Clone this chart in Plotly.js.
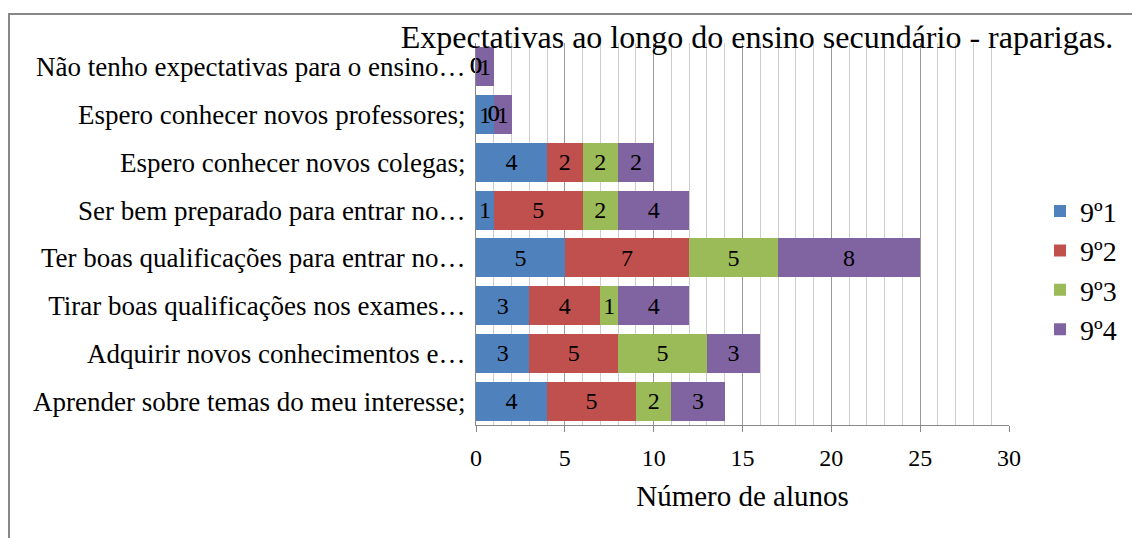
<!DOCTYPE html>
<html>
<head>
<meta charset="utf-8">
<script src="https://cdn.plot.ly/plotly-3.0.1.min.js"></script>
<style>
  html, body { margin: 0; padding: 0; background: #fff; }
  #wrap { position: relative; width: 1132px; height: 538px; overflow: hidden; }
  #chart { position: absolute; left: 0; top: 0; width: 1132px; height: 538px; }
  #frame { position: absolute; left: 8px; top: 13px; width: 1200px; height: 600px;
           border-left: 2px solid #888; border-top: 2px solid #888; pointer-events: none; }
</style>
</head>
<body>
<div id="wrap">
  <div id="chart"></div>
  <div id="frame"></div>
</div>
<script>
// Categories (bottom to top)
const categories = [
  "Aprender sobre temas do meu interesse;",
  "Adquirir novos conhecimentos e…",
  "Tirar boas qualificações nos exames…",
  "Ter boas qualificações para entrar no…",
  "Ser bem preparado para entrar no…",
  "Espero conhecer novos colegas;",
  "Espero conhecer novos professores;",
  "Não tenho expectativas para o ensino…"
];
const seriesNames = ["9º1", "9º2", "9º3", "9º4"];
const s91 = [4, 3, 3, 5, 1, 4, 1, 0];
const s92 = [5, 5, 4, 7, 5, 2, 0, 0];
const s93 = [2, 5, 1, 5, 2, 2, 0, 0];
const s94 = [3, 3, 4, 8, 4, 2, 1, 1];
const colors = ["#4F81BD", "#C0504D", "#9BBB59", "#8064A2"];
const xTicks = [0, 5, 10, 15, 20, 25, 30];

const FONT = "Liberation Serif, Times New Roman, serif";
const allSeries = [s91, s92, s93, s94];
const LABEL_SIZE = 24;

const traces = allSeries.map((vals, i) => ({
  type: "bar",
  orientation: "h",
  name: seriesNames[i],
  y: categories,
  x: vals,
  marker: { color: colors[i], line: { width: 0 } },
  text: vals.map(v => String(v)),
  textposition: "inside",
  insidetextanchor: "middle",
  constraintext: "none",
  textangle: 0,
  textfont: { family: FONT, size: LABEL_SIZE, color: "#000" },
  legendgroup: "g" + i,
  hoverinfo: "x+name"
}));

// Data labels for zero-valued segments (drawn at the stack position)
const zx = [], zy = [], zt = [];
categories.forEach((c, k) => {
  let cum = 0;
  allSeries.forEach(vals => {
    if (vals[k] === 0) { zx.push(cum); zy.push(c); zt.push("0"); }
    cum += vals[k];
  });
});
traces.push({
  type: "scatter",
  mode: "text",
  x: zx, y: zy, text: zt,
  textposition: "middle center",
  textfont: { family: FONT, size: LABEL_SIZE, color: "#000" },
  showlegend: false,
  hoverinfo: "skip",
  cliponaxis: false
});

const layout = {
  width: 1132,
  height: 538,
  margin: { l: 476, r: 123, t: 43, b: 113, autoexpand: false },
  paper_bgcolor: "rgba(0,0,0,0)",
  plot_bgcolor: "rgba(0,0,0,0)",
  barmode: "stack",
  bargap: 0.18,
  font: { family: FONT, size: 24, color: "#000" },
  title: {
    text: "Expectativas ao longo do ensino secundário - raparigas.",
    font: { family: FONT, size: 32, color: "#000" },
    xref: "container", x: 757 / 1132, xanchor: "center",
    yref: "container", y: 1 - 37 / 538, yanchor: "middle"
  },
  xaxis: {
    range: [0, 30],
    tickvals: xTicks,
    ticktext: xTicks.map(String),
    showgrid: true,
    gridcolor: "#9a9a9a",
    gridwidth: 1,
    minor: { dtick: 1, showgrid: true, gridcolor: "#cdcdcd", gridwidth: 1, ticks: "" },
    zeroline: false,
    showline: true,
    linecolor: "#888",
    linewidth: 1,
    ticks: "outside",
    ticklen: 6,
    tickcolor: "#888",
    ticklabelstandoff: 5,
    tickfont: { family: FONT, size: 24, color: "#000" },
    title: { text: "Número de alunos", font: { family: FONT, size: 29, color: "#000" }, standoff: 15 },
    automargin: false,
    fixedrange: true
  },
  yaxis: {
    type: "category",
    categoryorder: "array",
    categoryarray: categories,
    showgrid: false,
    zeroline: false,
    showline: true,
    linecolor: "#888",
    linewidth: 1,
    ticks: "",
    ticklabelstandoff: 4,
    tickfont: { family: FONT, size: 27, color: "#000" },
    automargin: false,
    fixedrange: true
  },
  showlegend: true,
  legend: {
    xref: "container", x: 1040 / 1132, xanchor: "left",
    yref: "paper", y: 0.405, yanchor: "middle",
    traceorder: "normal",
    tracegroupgap: 7,
    font: { family: FONT, size: 28, color: "#000" },
    bgcolor: "rgba(0,0,0,0)",
    itemwidth: 30
  }
};

Plotly.newPlot("chart", traces, layout, { displayModeBar: false, staticPlot: true });
</script>
</body>
</html>
